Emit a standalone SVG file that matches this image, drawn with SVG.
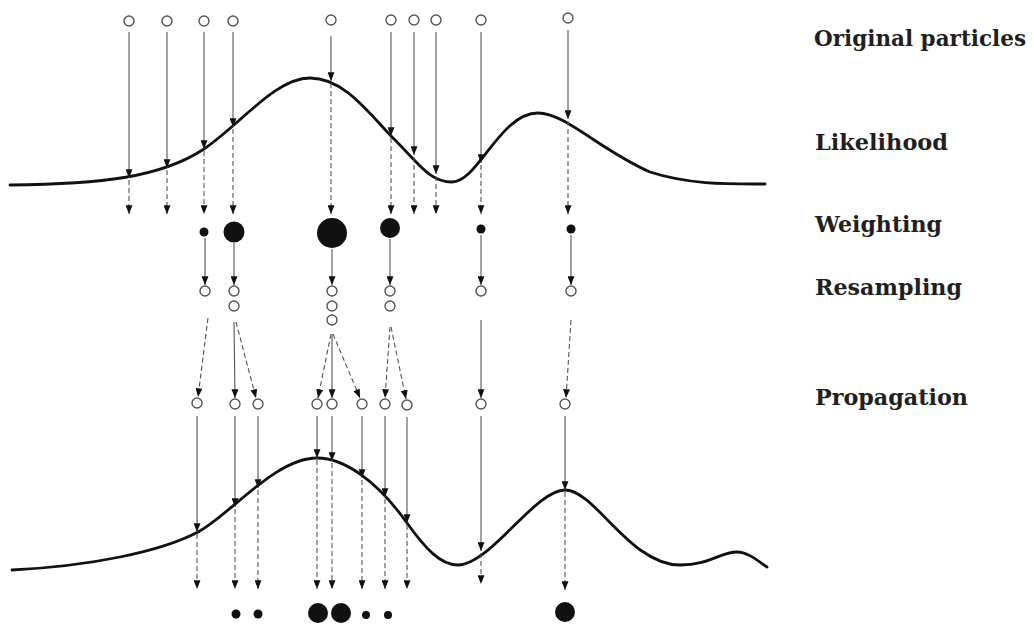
<svg xmlns="http://www.w3.org/2000/svg" width="1034" height="624" viewBox="0 0 1034 624">
  <style>
    .p { fill: #fff; stroke: #555; stroke-width: 1.4; }
    .w { fill: #111; }
    .s { stroke: #555; stroke-width: 1.1; fill: none; marker-end: url(#ah); }
    .d { stroke: #555; stroke-width: 1.1; fill: none; stroke-dasharray: 5 3; marker-end: url(#ah); }
    .curve { fill: none; stroke: #111; stroke-width: 2.8; stroke-linecap: round; }
    .lbl { font-family: "DejaVu Serif", "Liberation Serif", serif; font-weight: bold; font-size: 22.5px; fill: #231f20; }
  </style>
  <defs>
    <marker id="ah" viewBox="0 0 10 8" refX="10" refY="4" markerUnits="userSpaceOnUse" markerWidth="9" markerHeight="7" orient="auto">
      <path d="M0,0 L10,4 L0,8 z" fill="#111"/>
    </marker>
  </defs>
  <rect width="1034" height="624" fill="#fff"/>

  <!-- likelihood curves -->
  <g id="curves">
    <path class="curve" d="M10,185 C100,184 160,178 204,149 C240,125 275,78 310,78 C345,78 370,115 395,140 C420,165 430,182 452,182 C478,182 500,113 538,113 C565,113 600,150 650,172 C690,185 730,184 765,184"/>
    <path class="curve" d="M12,570 C90,566 160,552 198,532 C230,515 275,458 317,458 C345,458 378,482 407,523 C425,548 440,565 458,565 C490,565 535,490 565,490 C595,490 630,565 680,565 C710,565 720,552 737,552 C748,552 758,561 767,567"/>
  </g>

  <!-- original particles -->
  <g id="original">
    <circle class="p" cx="129" cy="21" r="5"/>
    <circle class="p" cx="167" cy="21" r="5"/>
    <circle class="p" cx="204" cy="21" r="5"/>
    <circle class="p" cx="233" cy="21" r="5"/>
    <circle class="p" cx="331" cy="20" r="5"/>
    <circle class="p" cx="391" cy="20" r="5"/>
    <circle class="p" cx="414" cy="20" r="5"/>
    <circle class="p" cx="436" cy="20" r="5"/>
    <circle class="p" cx="481" cy="20" r="5"/>
    <circle class="p" cx="568" cy="18" r="5"/>
  </g>

  <!-- weights after likelihood -->
  <g id="weighted">
    <circle class="w" cx="204" cy="232" r="4.5"/>
    <circle class="w" cx="234" cy="232" r="10.5"/>
    <circle class="w" cx="332" cy="233" r="15"/>
    <circle class="w" cx="390" cy="228" r="10"/>
    <circle class="w" cx="481" cy="229" r="4.5"/>
    <circle class="w" cx="571" cy="229" r="4.5"/>
  </g>

  <!-- resampled particles -->
  <g id="resampled">
    <circle class="p" cx="205" cy="291" r="5"/>
    <circle class="p" cx="234" cy="291" r="5"/>
    <circle class="p" cx="234" cy="306" r="5"/>
    <circle class="p" cx="332" cy="291" r="5"/>
    <circle class="p" cx="332" cy="306" r="5"/>
    <circle class="p" cx="332" cy="320" r="5"/>
    <circle class="p" cx="390" cy="291" r="5"/>
    <circle class="p" cx="390" cy="306" r="5"/>
    <circle class="p" cx="481" cy="291" r="5"/>
    <circle class="p" cx="571" cy="291" r="5"/>
  </g>

  <!-- propagated particles -->
  <g id="propagated">
    <circle class="p" cx="197" cy="403" r="5"/>
    <circle class="p" cx="235" cy="404" r="5"/>
    <circle class="p" cx="258" cy="404" r="5"/>
    <circle class="p" cx="317" cy="404" r="5"/>
    <circle class="p" cx="332" cy="404" r="5"/>
    <circle class="p" cx="362" cy="404" r="5"/>
    <circle class="p" cx="385" cy="404" r="5"/>
    <circle class="p" cx="407" cy="405" r="5"/>
    <circle class="p" cx="481" cy="404" r="5"/>
    <circle class="p" cx="565" cy="404" r="5"/>
  </g>

  <!-- weights after propagation -->
  <g id="reweighted">
    <circle class="w" cx="236" cy="614" r="4.5"/>
    <circle class="w" cx="258" cy="614" r="4.5"/>
    <circle class="w" cx="318" cy="613" r="10"/>
    <circle class="w" cx="341" cy="613" r="10"/>
    <circle class="w" cx="366" cy="615" r="4"/>
    <circle class="w" cx="388" cy="615" r="4"/>
    <circle class="w" cx="565" cy="612" r="10"/>
  </g>

  <g id="connectors">
    <!-- particles to likelihood -->
    <line class="s" x1="129" y1="32" x2="129" y2="178"/>
    <line class="s" x1="167" y1="32" x2="167" y2="168"/>
    <line class="s" x1="204" y1="32" x2="204" y2="149"/>
    <line class="s" x1="233" y1="32" x2="233" y2="127"/>
    <line class="s" x1="331" y1="36" x2="331" y2="81"/>
    <line class="s" x1="391" y1="32" x2="391" y2="136"/>
    <line class="s" x1="414" y1="32" x2="414" y2="155"/>
    <line class="s" x1="436" y1="32" x2="436" y2="174"/>
    <line class="s" x1="481" y1="32" x2="481" y2="163"/>
    <line class="s" x1="568" y1="30" x2="568" y2="119"/>
    <!-- likelihood to weights -->
    <line class="d" x1="129" y1="180" x2="129" y2="214"/>
    <line class="d" x1="167" y1="170" x2="167" y2="214"/>
    <line class="d" x1="204" y1="151" x2="204" y2="214"/>
    <line class="d" x1="233" y1="129" x2="233" y2="214"/>
    <line class="d" x1="331" y1="83" x2="331" y2="214"/>
    <line class="d" x1="391" y1="138" x2="391" y2="214"/>
    <line class="d" x1="414" y1="157" x2="414" y2="214"/>
    <line class="d" x1="436" y1="176" x2="436" y2="214"/>
    <line class="d" x1="481" y1="165" x2="481" y2="214"/>
    <line class="d" x1="568" y1="121" x2="568" y2="214"/>
    <!-- weights to resampling -->
    <line class="s" x1="205" y1="238" x2="205" y2="285"/>
    <line class="s" x1="234" y1="243" x2="234" y2="285"/>
    <line class="s" x1="332" y1="249" x2="332" y2="285"/>
    <line class="s" x1="390" y1="239" x2="390" y2="285"/>
    <line class="s" x1="481" y1="235" x2="481" y2="285"/>
    <line class="s" x1="571" y1="235" x2="571" y2="285"/>
    <!-- resampling to propagation -->
    <line class="d" x1="208" y1="318" x2="198" y2="397"/>
    <line class="s" x1="234" y1="322" x2="235" y2="398"/>
    <line class="d" x1="236" y1="322" x2="256" y2="398"/>
    <line class="d" x1="331" y1="334" x2="318" y2="398"/>
    <line class="s" x1="332" y1="334" x2="332" y2="398"/>
    <line class="d" x1="333" y1="334" x2="360" y2="398"/>
    <line class="d" x1="390" y1="327" x2="385" y2="398"/>
    <line class="d" x1="391" y1="327" x2="406" y2="399"/>
    <line class="s" x1="481" y1="320" x2="481" y2="398"/>
    <line class="d" x1="571" y1="320" x2="566" y2="398"/>
    <!-- propagated particles to likelihood -->
    <line class="s" x1="197" y1="416" x2="197" y2="532"/>
    <line class="s" x1="235" y1="416" x2="235" y2="507"/>
    <line class="s" x1="258" y1="416" x2="258" y2="488"/>
    <line class="s" x1="317" y1="416" x2="317" y2="458"/>
    <line class="s" x1="332" y1="416" x2="332" y2="461"/>
    <line class="s" x1="362" y1="416" x2="362" y2="478"/>
    <line class="s" x1="385" y1="416" x2="385" y2="497"/>
    <line class="s" x1="407" y1="417" x2="407" y2="523"/>
    <line class="s" x1="481" y1="416" x2="481" y2="551"/>
    <line class="s" x1="565" y1="416" x2="565" y2="490"/>
    <!-- likelihood to new weights -->
    <line class="d" x1="197" y1="534" x2="197" y2="589"/>
    <line class="d" x1="235" y1="509" x2="235" y2="589"/>
    <line class="d" x1="258" y1="490" x2="258" y2="589"/>
    <line class="d" x1="317" y1="460" x2="317" y2="589"/>
    <line class="d" x1="332" y1="463" x2="332" y2="589"/>
    <line class="d" x1="362" y1="480" x2="362" y2="589"/>
    <line class="d" x1="385" y1="499" x2="385" y2="589"/>
    <line class="d" x1="407" y1="525" x2="407" y2="589"/>
    <line class="d" x1="481" y1="553" x2="481" y2="584"/>
    <line class="d" x1="565" y1="492" x2="565" y2="590"/>
  </g>

  <!-- step labels -->
  <g id="labels">
    <text class="lbl" x="814" y="46" textLength="212" lengthAdjust="spacingAndGlyphs">Original particles</text>
    <text class="lbl" x="815" y="150" textLength="133" lengthAdjust="spacingAndGlyphs">Likelihood</text>
    <text class="lbl" x="815" y="232" textLength="127" lengthAdjust="spacingAndGlyphs">Weighting</text>
    <text class="lbl" x="815" y="295" textLength="147" lengthAdjust="spacingAndGlyphs">Resampling</text>
    <text class="lbl" x="815" y="405" textLength="153" lengthAdjust="spacingAndGlyphs">Propagation</text>
  </g>
</svg>
